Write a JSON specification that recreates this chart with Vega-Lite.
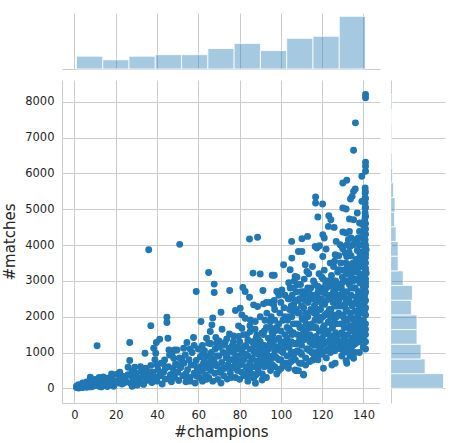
{
 "$schema": "https://vega.github.io/schema/vega-lite/v6.json",
 "padding": {"left": 2, "top": 10, "right": 5, "bottom": 5},
 "config": {
  "view": {"stroke": null},
  "font": "DejaVu Sans",
  "axis": {"gridColor": "#cccccc", "domainColor": "#cccccc", "ticks": false, "labelColor": "#262626", "titleColor": "#262626", "labelFont": "DejaVu Sans", "titleFont": "DejaVu Sans", "labelFontSize": 11.5, "titleFontSize": 15, "titleFontWeight": "normal"}
 },
 "datasets": {
  "tophist": [
   {"start": 1, "end": 13.73, "count": 25}, {"start": 13.73, "end": 26.45, "count": 18}, {"start": 26.45, "end": 39.18, "count": 25},
   {"start": 39.18, "end": 51.91, "count": 28}, {"start": 51.91, "end": 64.64, "count": 28}, {"start": 64.64, "end": 77.36, "count": 40},
   {"start": 77.36, "end": 90.09, "count": 50}, {"start": 90.09, "end": 102.82, "count": 36}, {"start": 102.82, "end": 115.55, "count": 60},
   {"start": 115.55, "end": 128.27, "count": 64}, {"start": 128.27, "end": 141, "count": 103}
  ],
  "righthist": [
   {"start": 0, "end": 410, "count": 103}, {"start": 410, "end": 820, "count": 67}, {"start": 820, "end": 1230, "count": 59},
   {"start": 1230, "end": 1640, "count": 51}, {"start": 1640, "end": 2050, "count": 51}, {"start": 2050, "end": 2460, "count": 40},
   {"start": 2460, "end": 2870, "count": 42}, {"start": 2870, "end": 3280, "count": 24}, {"start": 3280, "end": 3690, "count": 14},
   {"start": 3690, "end": 4100, "count": 14}, {"start": 4100, "end": 4510, "count": 10}, {"start": 4510, "end": 4920, "count": 7},
   {"start": 4920, "end": 5330, "count": 8}, {"start": 5330, "end": 5740, "count": 5}, {"start": 5740, "end": 6150, "count": 3},
   {"start": 6150, "end": 6560, "count": 2}, {"start": 6560, "end": 6970, "count": 1}, {"start": 6970, "end": 7380, "count": 0},
   {"start": 7380, "end": 7790, "count": 1}, {"start": 7790, "end": 8205, "count": 2}
  ],
  "pts": [
   {"c":1,"m":20},{"c":1,"m":60},{"c":2,"m":10},{"c":2,"m":40},{"c":3,"m":30},{"c":3,"m":90},{"c":4,"m":20},{"c":4,"m":70},{"c":5,"m":50},{"c":5,"m":120},{"c":6,"m":30},{"c":6,"m":90},{"c":7,"m":60},{"c":7.7,"m":310},{"c":8,"m":140},{"c":8,"m":40},{"c":9,"m":100},{"c":9,"m":60},{"c":10,"m":170},{"c":10,"m":80},{"c":11,"m":1190},{"c":11,"m":120},{"c":12,"m":60},{"c":12,"m":200},{"c":13,"m":110},{"c":13,"m":40},
   {"c":14,"m":170},{"c":14,"m":70},{"c":15,"m":100},{"c":15,"m":240},{"c":16,"m":50},{"c":16,"m":150},{"c":17,"m":200},{"c":17,"m":90},{"c":18,"m":130},{"c":18,"m":280},{"c":19,"m":60},{"c":19,"m":190},{"c":20.3,"m":390},{"c":21,"m":150},{"c":21.9,"m":390},{"c":22,"m":260},{"c":23,"m":120},{"c":24,"m":330},{"c":25,"m":200},{"c":26,"m":590},
   {"c":26.8,"m":1280},{"c":26.8,"m":775},{"c":27,"m":150},{"c":27.5,"m":350},{"c":28,"m":60},{"c":28.5,"m":250},{"c":29.2,"m":590},{"c":29.5,"m":160},{"c":30,"m":420},{"c":30.5,"m":90},{"c":31,"m":280},{"c":32,"m":180},{"c":32.5,"m":480},{"c":33,"m":330},{"c":33.5,"m":110},{"c":34.2,"m":980},{"c":34.5,"m":560},{"c":35,"m":220},{"c":35.5,"m":400},{"c":36,"m":3870},{"c":36.5,"m":290},{"c":37,"m":1750},{"c":37,"m":640},{"c":37.5,"m":160},{"c":38,"m":450},{"c":38.4,"m":1120},{"c":38.8,"m":330},{"c":39,"m":800},
   {"c":39.7,"m":1280},{"c":39.4,"m":980},{"c":40,"m":200},{"c":40.5,"m":520},{"c":41.3,"m":1370},{"c":41.5,"m":350},{"c":42,"m":700},{"c":42.5,"m":120},{"c":42.9,"m":700},{"c":43.2,"m":450},{"c":43.7,"m":790},{"c":44,"m":260},{"c":44.8,"m":1985},{"c":44.8,"m":1836},{"c":45.3,"m":1400},{"c":45.5,"m":600},{"c":45.8,"m":1070},{"c":46.1,"m":930},{"c":46.5,"m":380},{"c":47,"m":180},{"c":47.3,"m":980},{"c":47.8,"m":560},{"c":48.1,"m":840},{"c":48.5,"m":1070},{"c":48.5,"m":300},{"c":49,"m":680},{"c":49.7,"m":1070},{"c":50,"m":450},{"c":50.5,"m":220},{"c":51,"m":4020},{"c":51,"m":850},{"c":51.5,"m":580},
   {"c":52.9,"m":1120},{"c":52.5,"m":350},{"c":53,"m":700},{"c":53.7,"m":930},{"c":54,"m":180},{"c":54.5,"m":1277},{"c":54.8,"m":520},{"c":55.5,"m":800},{"c":56,"m":300},{"c":56.5,"m":650},{"c":57,"m":1000},{"c":57.7,"m":1417},{"c":58,"m":420},{"c":58.5,"m":150},{"c":59,"m":2704},{"c":59,"m":780},{"c":59.5,"m":560},{"c":60,"m":1100},{"c":60.5,"m":300},{"c":61,"m":880},{"c":61.3,"m":1865},{"c":61.8,"m":480},{"c":62,"m":200},{"c":62.5,"m":700},{"c":63,"m":1050},{"c":63.5,"m":380},{"c":64,"m":580},{"c":64.2,"m":900},{"c":58,"m":1200},{"c":56,"m":1100},
   {"c":65,"m":3235},{"c":65,"m":1259},{"c":65.8,"m":1585},{"c":66.6,"m":1772},{"c":67,"m":1967},{"c":67.7,"m":2910},{"c":67.7,"m":2676},{"c":69,"m":1259},{"c":71,"m":2126},{"c":71.5,"m":1650},{"c":71.5,"m":1212},{"c":73,"m":1277},{"c":75.2,"m":2732},{"c":75.1,"m":1520},{"c":77.1,"m":1464},
   {"c":65,"m":300},{"c":65.5,"m":700},{"c":66,"m":500},{"c":66.3,"m":1000},{"c":67,"m":200},{"c":67.5,"m":820},{"c":68,"m":420},{"c":68.2,"m":1100},{"c":69,"m":620},{"c":69.5,"m":250},{"c":70,"m":900},{"c":70.3,"m":450},{"c":71,"m":150},{"c":71.3,"m":720},{"c":72,"m":1000},{"c":72.3,"m":350},{"c":73,"m":560},{"c":73.5,"m":850},{"c":74,"m":260},{"c":74.3,"m":650},{"c":74.8,"m":1120},{"c":75.5,"m":430},{"c":76,"m":300},{"c":76.3,"m":800},{"c":77,"m":600},{"c":77,"m":1000},{"c":68.5,"m":1420},{"c":70,"m":1320},{"c":73.8,"m":1380},{"c":76.5,"m":1200},
   {"c":78,"m":2172},{"c":79.5,"m":1744},{"c":79.5,"m":1445},{"c":80.3,"m":2238},{"c":81.1,"m":2051},{"c":81.1,"m":1678},{"c":81.6,"m":2816},{"c":82.7,"m":2704},{"c":82.7,"m":1958},{"c":84.8,"m":2545},{"c":84.8,"m":4170},{"c":85.2,"m":1911},{"c":85.2,"m":1585},{"c":86.5,"m":3217},{"c":86.8,"m":2331},{"c":87.6,"m":1865},{"c":88.4,"m":1492},{"c":88.7,"m":4220},{"c":88.7,"m":2284},{"c":89.2,"m":1352},{"c":86.9,"m":298},{"c":87.7,"m":140},{"c":90,"m":3190},
   {"c":78,"m":300},{"c":78,"m":700},{"c":78.3,"m":1100},{"c":79,"m":500},{"c":79,"m":900},{"c":80,"m":250},{"c":80,"m":1300},{"c":80.2,"m":650},{"c":81,"m":450},{"c":81.2,"m":1000},{"c":82,"m":800},{"c":82.2,"m":350},{"c":83,"m":600},{"c":83,"m":1200},{"c":84,"m":200},{"c":84,"m":900},{"c":84.2,"m":500},{"c":85,"m":1100},{"c":85,"m":720},{"c":86,"m":400},{"c":86,"m":1300},{"c":86.2,"m":850},{"c":87,"m":600},{"c":87,"m":1020},{"c":88,"m":380},{"c":88,"m":1200},{"c":88.2,"m":760},{"c":89,"m":520},{"c":89,"m":950},{"c":89.8,"m":660},{"c":89.8,"m":1100},{"c":83.5,"m":1500},{"c":87.5,"m":1650},
   {"c":90.9,"m":233},{"c":91.3,"m":2732},{"c":91.6,"m":2359},{"c":90.8,"m":1538},{"c":94.8,"m":2396},{"c":96.8,"m":2452},{"c":95.6,"m":1585},{"c":94.8,"m":1259},{"c":95.8,"m":3160},{"c":96.8,"m":3160},{"c":98,"m":2704},{"c":100.5,"m":2750},{"c":96.5,"m":2331},{"c":94.8,"m":1865},{"c":98,"m":1165},{"c":94.8,"m":606},{"c":97.3,"m":886},{"c":101.3,"m":3450},
   {"c":91,"m":400},{"c":91,"m":900},{"c":91.5,"m":1500},{"c":92,"m":600},{"c":92,"m":1200},{"c":92.3,"m":1900},{"c":93,"m":300},{"c":93,"m":1000},{"c":93.2,"m":2100},{"c":94,"m":700},{"c":94,"m":1400},{"c":95,"m":500},{"c":95,"m":1700},{"c":95.3,"m":2000},{"c":96,"m":900},{"c":96,"m":1300},{"c":97,"m":600},{"c":97,"m":2200},{"c":97.2,"m":1600},{"c":98,"m":1100},{"c":98,"m":400},{"c":99,"m":1800},{"c":99,"m":800},{"c":100,"m":1300},{"c":100,"m":2400},{"c":100,"m":550},{"c":101,"m":1000},{"c":101,"m":1900},{"c":102,"m":700},{"c":102,"m":1500},{"c":102,"m":2600},{"c":99.5,"m":2100},{"c":101.5,"m":2250},
   {"c":105.2,"m":4103},{"c":110.2,"m":4177},{"c":112.9,"m":4243},{"c":111.8,"m":3450},{"c":112.6,"m":3263},{"c":108.5,"m":3823},{"c":110.2,"m":3823},{"c":104.5,"m":3310},{"c":106.9,"m":3124},{"c":105.3,"m":3636},
   {"c":103.7,"m":560},{"c":106.9,"m":513},{"c":110.9,"m":391},{"c":107.4,"m":494},{"c":108.5,"m":494},{"c":111,"m":373},
   {"c":103,"m":900},{"c":103,"m":1400},{"c":103.2,"m":1900},{"c":103.5,"m":2500},{"c":104,"m":1150},{"c":104,"m":1650},{"c":104.2,"m":2200},{"c":104.5,"m":2800},{"c":105,"m":750},{"c":105,"m":1300},{"c":105.3,"m":2000},{"c":105.5,"m":2600},{"c":106,"m":1000},{"c":106,"m":1550},{"c":106.2,"m":2350},{"c":106.5,"m":3000},{"c":107,"m":800},{"c":107,"m":1250},{"c":107.3,"m":1800},{"c":107.5,"m":2700},{"c":108,"m":1050},{"c":108,"m":1500},{"c":108.2,"m":2100},{"c":108.5,"m":2450},{"c":109,"m":700},{"c":109,"m":1350},{"c":109.2,"m":1700},{"c":109.5,"m":2900},{"c":110,"m":950},{"c":110,"m":1200},{"c":110.3,"m":1950},{"c":110.5,"m":2550},{"c":111,"m":1600},{"c":111,"m":2250},{"c":111.3,"m":3050},{"c":112,"m":850},{"c":112,"m":1400},{"c":112.3,"m":1800},{"c":112.5,"m":2650},{"c":113,"m":1100},{"c":113,"m":2000},{"c":113.2,"m":2400},{"c":113.5,"m":3200},{"c":114,"m":750},{"c":114,"m":1300},{"c":114.2,"m":1700},{"c":114.5,"m":2800},{"c":115,"m":1000},{"c":115,"m":2150},{"c":115.2,"m":2500},{"c":115.3,"m":3400},
   {"c":116.8,"m":5343},{"c":116.8,"m":5175},{"c":120.2,"m":5147},{"c":117.9,"m":4783},{"c":123.2,"m":4820},{"c":124.2,"m":4709},{"c":123,"m":4522},{"c":125.8,"m":4494},{"c":120.3,"m":4289},{"c":121,"m":4196},{"c":126.8,"m":4103},{"c":116.6,"m":3963},{"c":117.4,"m":3916},{"c":121.9,"m":3888},{"c":120.3,"m":3683},{"c":123.9,"m":3497},{"c":125.5,"m":3403},{"c":126.3,"m":3730},{"c":128,"m":3310},{"c":118.7,"m":3981},
   {"c":115.5,"m":793},{"c":117.4,"m":839},{"c":118.2,"m":979},{"c":120.6,"m":560},{"c":124.7,"m":653},{"c":126.3,"m":699},
   {"c":116,"m":1200},{"c":116,"m":1700},{"c":116.2,"m":2300},{"c":116.5,"m":2900},{"c":117,"m":1000},{"c":117,"m":1450},{"c":117.3,"m":2050},{"c":117.5,"m":2600},{"c":118,"m":1300},{"c":118,"m":1900},{"c":118.3,"m":2450},{"c":118.5,"m":3200},{"c":119,"m":1100},{"c":119,"m":1600},{"c":119.2,"m":2200},{"c":119.5,"m":2800},{"c":120,"m":950},{"c":120,"m":1400},{"c":120.3,"m":2000},{"c":120.5,"m":3050},{"c":121,"m":1250},{"c":121,"m":1750},{"c":121.2,"m":2350},{"c":121.5,"m":2650},{"c":122,"m":1050},{"c":122,"m":1550},{"c":122.3,"m":2100},{"c":122.5,"m":3000},{"c":123,"m":1300},{"c":123,"m":1850},{"c":123.3,"m":2500},{"c":123.5,"m":2850},{"c":124,"m":1000},{"c":124,"m":1450},{"c":124.2,"m":2200},{"c":124.5,"m":3150},{"c":125,"m":1200},{"c":125,"m":1700},{"c":125.3,"m":2400},{"c":125.5,"m":2700},{"c":126,"m":1050},{"c":126,"m":1950},{"c":126.3,"m":2300},{"c":126.5,"m":3000},{"c":127,"m":1400},{"c":127,"m":1800},{"c":127.3,"m":2600},{"c":127.5,"m":3250},{"c":128,"m":1150},{"c":128,"m":2100},
   {"c":141,"m":8205},{"c":141,"m":8112},{"c":136.1,"m":7413},{"c":135.2,"m":6648},{"c":141,"m":6312},{"c":141,"m":6200},{"c":141,"m":6060},{"c":139.2,"m":5920},{"c":130,"m":5734},{"c":131.9,"m":5809},{"c":135.2,"m":5500},{"c":136,"m":5566},{"c":134.5,"m":5361},{"c":133.7,"m":5287},{"c":140.8,"m":5594},{"c":140.8,"m":5455},{"c":140.8,"m":5315},{"c":140.8,"m":5175},{"c":140.8,"m":5035},{"c":140.8,"m":4895},{"c":140.8,"m":4802},{"c":130,"m":5035},{"c":131.6,"m":5007},{"c":137,"m":4895},{"c":133.2,"m":4727},{"c":135.2,"m":4709},{"c":130,"m":4364},{"c":131.6,"m":4336},{"c":133.2,"m":4382},{"c":138.1,"m":4615},{"c":139.7,"m":4569},{"c":140.5,"m":4429},{"c":138.1,"m":4382},{"c":132.7,"m":4149},{"c":137.5,"m":4196},{"c":140.8,"m":4149},{"c":129.5,"m":3963},{"c":135.2,"m":4009},{"c":128.7,"m":4009},{"c":131.1,"m":3776},{"c":131.9,"m":3683},{"c":133.5,"m":3963},{"c":138.3,"m":3730},{"c":140,"m":4009},{"c":140.8,"m":3916},{"c":141.3,"m":3870},{"c":135.5,"m":3403},{"c":139.7,"m":3497},{"c":141.3,"m":3217},{"c":138.9,"m":3124},{"c":137.3,"m":3030},{"c":131.9,"m":3357},{"c":139.2,"m":5221},
   {"c":131.9,"m":699},{"c":135.2,"m":839},{"c":131.6,"m":1072},{"c":137.5,"m":1398},{"c":131.6,"m":774},{"c":137.6,"m":1399},
   {"c":128.5,"m":1300},{"c":128.8,"m":1800},{"c":129,"m":2300},{"c":129.3,"m":2800},{"c":129.5,"m":1550},{"c":129.8,"m":3100},{"c":130,"m":1100},{"c":130.2,"m":2000},{"c":130.5,"m":2550},{"c":130.8,"m":1700},{"c":131,"m":3000},{"c":131.2,"m":1350},{"c":131.5,"m":2200},{"c":131.8,"m":2700},{"c":132,"m":1900},{"c":132.2,"m":1500},{"c":132.5,"m":3300},{"c":132.8,"m":2400},{"c":133,"m":1150},{"c":133.2,"m":2900},{"c":133.5,"m":1750},{"c":133.8,"m":2100},{"c":134,"m":2600},{"c":134.2,"m":3200},{"c":134.5,"m":1400},{"c":134.8,"m":1950},{"c":135,"m":2350},{"c":135.2,"m":2800},{"c":135.5,"m":1650},{"c":135.8,"m":3050},{"c":136,"m":2150},{"c":136.2,"m":1250},{"c":136.5,"m":2550},{"c":136.8,"m":1850},{"c":137,"m":3300},{"c":137.2,"m":2000},{"c":137.5,"m":2700},{"c":137.8,"m":1550},{"c":138,"m":2300},{"c":138.2,"m":2950},{"c":138.5,"m":1750},{"c":138.8,"m":3400},{"c":139,"m":2100},{"c":139.2,"m":2550},{"c":139.5,"m":1350},{"c":139.8,"m":2850},{"c":140,"m":1900},{"c":140.2,"m":3150},{"c":140.4,"m":2400},{"c":140.6,"m":1650},{"c":140.8,"m":2650},{"c":141,"m":2050},{"c":141,"m":2950},{"c":141,"m":3500},{"c":140.9,"m":3300},{"c":140.7,"m":2200},{"c":140.3,"m":2750},{"c":141,"m":1800},{"c":140.5,"m":3700},{"c":141,"m":4600},{"c":141,"m":4300},{"c":141,"m":4000},{"c":140.9,"m":5500},{"c":140.6,"m":4700},{"c":139.5,"m":4200},{"c":139,"m":3800},{"c":138,"m":3600},{"c":136.5,"m":3600},{"c":134,"m":3700},{"c":139.9,"m":1150},{"c":136,"m":1000},{"c":133.5,"m":900},{"c":129.5,"m":900},{"c":141,"m":2450},{"c":141,"m":1500},{"c":139.7,"m":3050},
   {"c":2,"m":100},{"c":4,"m":150},{"c":6,"m":180},{"c":8,"m":220},{"c":10,"m":250},{"c":12,"m":300},{"c":14,"m":320},{"c":16,"m":280},{"c":18,"m":400},{"c":20,"m":200},{"c":22,"m":450},{"c":24,"m":150},{"c":26,"m":380},{"c":28,"m":480},{"c":30,"m":250},{"c":32,"m":600},{"c":34,"m":380},{"c":36,"m":450},{"c":38,"m":200},{"c":40,"m":650},{"c":42,"m":420},{"c":44,"m":550},{"c":46,"m":250},{"c":48,"m":450},{"c":50,"m":650},{"c":52,"m":800},{"c":54,"m":400},{"c":56,"m":200},{"c":58,"m":650},{"c":60,"m":450},{"c":62,"m":950},{"c":64,"m":250},
   {"c":61,"m":600},{"c":63,"m":750},{"c":66,"m":850},{"c":68,"m":700},{"c":70,"m":1150},{"c":72,"m":550},{"c":74,"m":950},{"c":76,"m":1050},{"c":78,"m":850},{"c":80,"m":1100},{"c":81,"m":750},{"c":83,"m":950},{"c":84,"m":1350},{"c":85,"m":300},{"c":86,"m":1100},{"c":88,"m":1000},{"c":90,"m":800},{"c":90,"m":1300},{"c":91,"m":1200},{"c":92,"m":1600},{"c":93,"m":700},{"c":94,"m":1100},{"c":95,"m":1200},{"c":96,"m":650},{"c":97,"m":1350},{"c":98,"m":1700},{"c":99,"m":1100},{"c":99,"m":500},{"c":100,"m":1600},{"c":100,"m":800},{"c":101,"m":1250},{"c":102,"m":1150},{"c":102,"m":2000},{"c":97,"m":1900},{"c":93,"m":1700},{"c":88,"m":1400},{"c":82,"m":1500},{"c":85,"m":1750},{"c":90,"m":2000},{"c":93,"m":2400},{"c":99,"m":2600},
   {"c":103.5,"m":1150},{"c":104.5,"m":1600},{"c":105.5,"m":1500},{"c":106.5,"m":1250},{"c":107.5,"m":2200},{"c":108.5,"m":1800},{"c":109.5,"m":1000},{"c":110.5,"m":1500},{"c":111.5,"m":1900},{"c":112.5,"m":1100},{"c":113.5,"m":1700},{"c":114.5,"m":2200},{"c":115.5,"m":1400},{"c":116.5,"m":1900},{"c":117.5,"m":1200},{"c":118.5,"m":1600},{"c":119.5,"m":2500},{"c":120.5,"m":1700},{"c":121.5,"m":2050},{"c":122.5,"m":1300},{"c":123.5,"m":2200},{"c":124.5,"m":1800},{"c":125.5,"m":2050},{"c":126.5,"m":1550},{"c":127.5,"m":2300},{"c":128.5,"m":2600},{"c":104,"m":2000},{"c":106,"m":2800},{"c":108,"m":2900},{"c":110,"m":2300},{"c":112,"m":2100},{"c":114,"m":2550},{"c":116,"m":2600},{"c":118,"m":2200},{"c":120,"m":2700},{"c":122,"m":2800},{"c":124,"m":2600},{"c":126,"m":2700},{"c":128,"m":2900},{"c":105,"m":2300},{"c":107,"m":1000},{"c":109,"m":2500},{"c":111,"m":1350},{"c":113,"m":1450},{"c":115,"m":1800},{"c":117,"m":2400},{"c":119,"m":1900},{"c":121,"m":3300},{"c":123,"m":1600},{"c":125,"m":3000},{"c":127,"m":1100},{"c":106,"m":900},{"c":110,"m":700},{"c":114,"m":1050},{"c":118,"m":800},{"c":122,"m":850},{"c":126,"m":1300},{"c":104,"m":700},{"c":112,"m":650},{"c":116,"m":950},{"c":120,"m":1200},{"c":124,"m":1250},{"c":128,"m":1500},
   {"c":129,"m":1100},{"c":129.5,"m":2050},{"c":130,"m":2700},{"c":130.5,"m":1400},{"c":131,"m":1900},{"c":131.5,"m":2500},{"c":132,"m":3000},{"c":132.5,"m":1700},{"c":133,"m":2500},{"c":133.5,"m":1300},{"c":134,"m":1100},{"c":134.5,"m":2300},{"c":135,"m":3000},{"c":135.5,"m":1900},{"c":136,"m":2800},{"c":136.5,"m":1500},{"c":137,"m":2400},{"c":137.5,"m":1900},{"c":138,"m":1300},{"c":138.5,"m":2500},{"c":139,"m":3000},{"c":139.5,"m":1700},{"c":140,"m":2200},{"c":140,"m":1400},{"c":140.5,"m":2550},{"c":141,"m":3200},{"c":141,"m":2700},{"c":141,"m":2250},{"c":141,"m":3750},{"c":130,"m":3300},{"c":133,"m":3450},{"c":136,"m":3250},{"c":138,"m":3200},{"c":132,"m":1200},{"c":135,"m":1200},{"c":138,"m":1000},{"c":141,"m":1100},{"c":130.5,"m":1000},{"c":134,"m":1600},{"c":137,"m":1700},{"c":140,"m":2950},{"c":139,"m":3550},{"c":137,"m":3600},{"c":135,"m":3500},{"c":131.5,"m":3500},{"c":129,"m":3500},{"c":141,"m":4450},{"c":140.5,"m":4100},{"c":141,"m":5300},{"c":141,"m":5050},{"c":141,"m":4800},{"c":139,"m":4000},{"c":137,"m":4050},
   {"c":103,"m":1700},{"c":104,"m":2500},{"c":105,"m":1000},{"c":106,"m":1800},{"c":107,"m":2450},{"c":108,"m":1250},{"c":109,"m":2100},{"c":110,"m":1700},{"c":111,"m":2700},{"c":112,"m":1600},{"c":113,"m":2800},{"c":114,"m":1500},{"c":115,"m":1250},{"c":116,"m":2100},{"c":117,"m":1700},{"c":118,"m":2700},{"c":119,"m":1350},{"c":120,"m":2350},{"c":121,"m":1500},{"c":122,"m":2450},{"c":123,"m":1100},{"c":124,"m":2000},{"c":125,"m":1450},{"c":126,"m":2500},{"c":127,"m":2000},{"c":128,"m":2450},{"c":129,"m":2550},{"c":130,"m":1800},{"c":131,"m":2350},{"c":132,"m":2150},{"c":133,"m":1950},{"c":134,"m":2800},{"c":135,"m":1750},{"c":136,"m":2400},{"c":137,"m":2150},{"c":138,"m":2700},{"c":139,"m":1900},{"c":140,"m":2450},{"c":129.8,"m":1250},{"c":132.8,"m":1000},{"c":135.8,"m":1450},{"c":138.8,"m":1550},{"c":141,"m":1300},{"c":141,"m":1650},{"c":141,"m":2850},{"c":141,"m":3050},{"c":141,"m":3350},{"c":141,"m":3650},{"c":140.5,"m":3450},{"c":137.8,"m":3500},{"c":136.8,"m":3400},{"c":134.8,"m":3350},{"c":133.8,"m":3050},{"c":131.8,"m":3200},{"c":129.8,"m":2950},{"c":127.8,"m":2800},{"c":125.8,"m":2850},{"c":123.8,"m":3000},{"c":121.8,"m":2900},{"c":119.8,"m":3100},{"c":117.8,"m":2850},{"c":115.8,"m":3000},{"c":113.8,"m":2650},{"c":111.8,"m":2450},{"c":109.8,"m":2700},{"c":107.8,"m":3100},{"c":105.8,"m":2150},{"c":103.8,"m":2950},
   {"c":128,"m":3700},{"c":130,"m":3900},{"c":132,"m":4000},{"c":134,"m":4200},{"c":136,"m":4150},{"c":138,"m":4000},{"c":140,"m":4250},{"c":126,"m":3550},{"c":133,"m":3800},{"c":137,"m":3850},
   {"c":95,"m":800},{"c":97,"m":1050},{"c":99,"m":1400},{"c":101,"m":700},{"c":103,"m":600},{"c":100,"m":1050},{"c":96,"m":1500},{"c":98,"m":850},{"c":102,"m":1300},{"c":94,"m":900},{"c":92,"m":800},{"c":91,"m":1050},
   {"c":62,"m":1200},{"c":64,"m":1400},{"c":66,"m":1250},{"c":69,"m":900},{"c":72,"m":1200},{"c":75,"m":800},{"c":77,"m":1300},{"c":79,"m":1150},{"c":82,"m":1150},{"c":85,"m":550},{"c":87,"m":1250},{"c":89,"m":1200},{"c":80,"m":850},{"c":83,"m":400},{"c":76,"m":550},{"c":71,"m":500},{"c":67,"m":650},{"c":63,"m":250},{"c":59,"m":350},{"c":55,"m":300}
  ]
 },
 "columns": 2,
 "align": "each",
 "bounds": "flush",
 "spacing": {"row": 11, "column": 11},
 "concat": [
  {
   "width": 318, "height": 56,
   "data": {"name": "tophist"},
   "mark": {"type": "rect", "fill": "#1f77b4", "fillOpacity": 0.4, "stroke": "white", "strokeWidth": 1, "strokeOpacity": 0.8},
   "encoding": {
    "x": {"field": "start", "type": "quantitative", "scale": {"domain": [-6, 148], "nice": false, "zero": false}, "axis": {"values": [0, 20, 40, 60, 80, 100, 120, 140], "labels": false, "title": null, "grid": true}},
    "x2": {"field": "end"},
    "y": {"field": "count", "type": "quantitative", "scale": {"domain": [0, 109.5], "nice": false}, "axis": null},
    "y2": {"datum": 0}
   }
  },
  {
   "width": 1, "height": 1,
   "data": {"values": [{"a": 0}]},
   "mark": {"type": "point", "opacity": 0},
   "encoding": {}
  },
  {
   "width": 318, "height": 323,
   "data": {"name": "pts"},
   "mark": {"type": "circle", "size": 48, "color": "#1f77b4", "opacity": 1},
   "encoding": {
    "x": {"field": "c", "type": "quantitative", "scale": {"domain": [-6, 148], "nice": false, "zero": false}, "axis": {"values": [0, 20, 40, 60, 80, 100, 120, 140], "format": "d", "title": "#champions", "grid": true, "labelPadding": 6, "titlePadding": 4}},
    "y": {"field": "m", "type": "quantitative", "scale": {"domain": [-410, 8610], "nice": false, "zero": false}, "axis": {"values": [0, 1000, 2000, 3000, 4000, 5000, 6000, 7000, 8000], "format": "d", "title": "#matches", "grid": true, "labelPadding": 8, "titlePadding": 7}}
   }
  },
  {
   "width": 54, "height": 323,
   "data": {"name": "righthist"},
   "mark": {"type": "rect", "fill": "#1f77b4", "fillOpacity": 0.4, "stroke": "white", "strokeWidth": 1, "strokeOpacity": 0.8},
   "encoding": {
    "y": {"field": "start", "type": "quantitative", "scale": {"domain": [-410, 8610], "nice": false, "zero": false}, "axis": {"values": [0, 1000, 2000, 3000, 4000, 5000, 6000, 7000, 8000], "labels": false, "title": null, "grid": true}},
    "y2": {"field": "end"},
    "x": {"field": "count", "type": "quantitative", "scale": {"domain": [0, 106], "nice": false}, "axis": null},
    "x2": {"datum": 0}
   }
  }
 ]
}
